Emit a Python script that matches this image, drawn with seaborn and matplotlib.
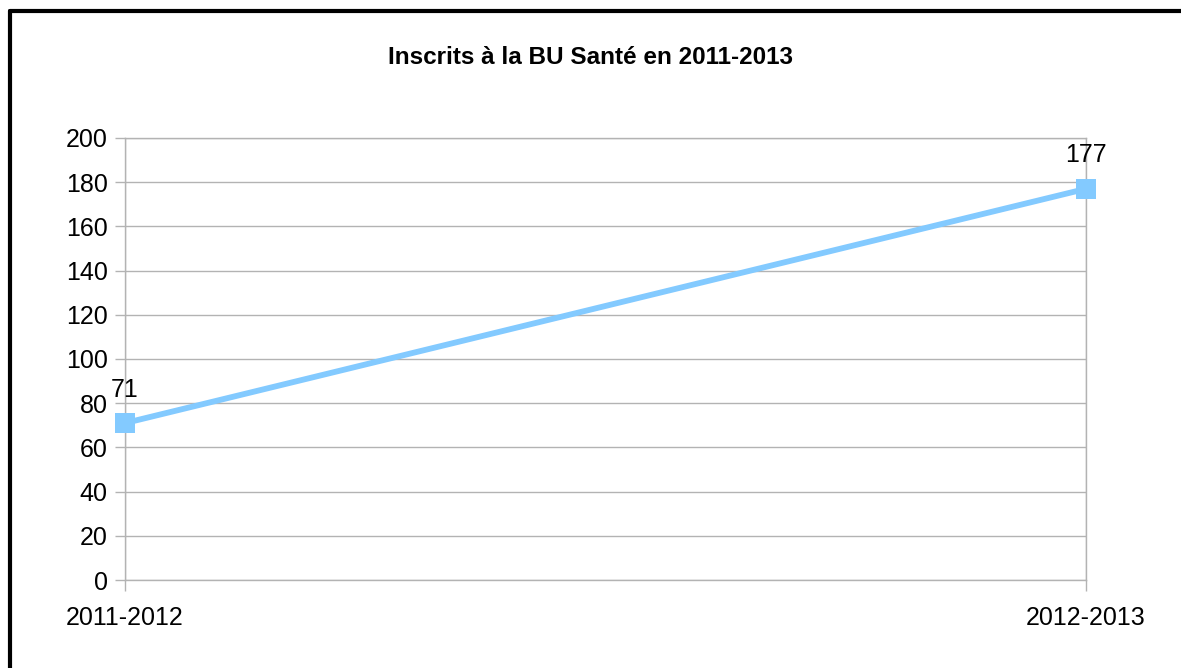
import matplotlib
matplotlib.use("Agg")
import matplotlib.pyplot as plt
from matplotlib.lines import Line2D
import pandas as pd
import seaborn as sns

# Data
years = ["2011-2012", "2012-2013"]
inscrits = [71, 177]
title = "Inscrits à la BU Santé en 2011-2013"

df = pd.DataFrame({"annee": years, "inscrits": inscrits})

sns.set_theme(style="white")
plt.rcParams['font.family'] = ['Liberation Sans', 'DejaVu Sans']

line_color = "#83CAFF"
grid_color = "#b3b3b3"

fig = plt.figure(figsize=(11.81, 6.68), dpi=100)
ax = fig.add_axes([125 / 1181, 1 - 580 / 668, (1086 - 125) / 1181, (580 - 138) / 668])

sns.lineplot(data=df, x="annee", y="inscrits", ax=ax, sort=False,
             color=line_color, linewidth=4.2, marker="s", markersize=14,
             markeredgewidth=0, clip_on=False, zorder=5)

ax.set_xlim(0, 1)
ax.set_ylim(0, 200)
ax.set_yticks(range(0, 201, 20))
ax.set_xlabel("")
ax.set_ylabel("")

# Gridlines
ax.grid(True, axis="both", color=grid_color, linewidth=1)
ax.set_axisbelow(True)

# Spines all light gray (top/right act as the outer gridlines)
for spine in ["left", "bottom", "top", "right"]:
    ax.spines[spine].set_color(grid_color)
    ax.spines[spine].set_linewidth(1)

ax.tick_params(axis="y", length=7, width=1, color=grid_color, pad=5.5, labelsize=18, left=True)
ax.tick_params(axis="x", length=8, width=1, color=grid_color, pad=11, labelsize=18, bottom=True)
for lbl in ax.get_xticklabels() + ax.get_yticklabels():
    lbl.set_color("black")

# Data labels
for i, v in enumerate(inscrits):
    ax.annotate(str(v), (i, v), xytext=(0, 24), textcoords="offset points",
                ha="center", va="center", fontsize=18, color="black")

fig.text(0.5, 1 - 58 / 668, title, ha="center", va="center",
         fontsize=17.5, fontweight="bold", color="black")

# Frame (top and left edges visible)
fig.add_artist(Line2D([10 / 1181, 1.0], [1 - 11 / 668, 1 - 11 / 668],
                      transform=fig.transFigure, color="black", linewidth=3))
fig.add_artist(Line2D([10 / 1181, 10 / 1181], [0.0, 1 - 11 / 668],
                      transform=fig.transFigure, color="black", linewidth=3))

fig.savefig("out.png", dpi=100)
